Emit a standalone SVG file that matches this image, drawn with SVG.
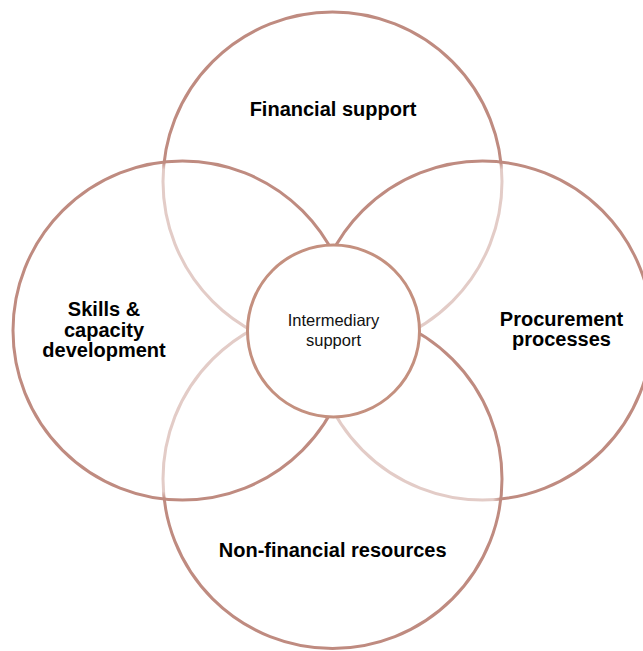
<svg xmlns="http://www.w3.org/2000/svg" width="643" height="651" viewBox="0 0 643 651">
  <style>
    .big { fill: url(#veil); stroke: #bf8b80; stroke-width: 3; }
    .hub { fill: #ffffff; stroke: #c4907f; stroke-width: 3; }
    .lbl { font-family: "Liberation Sans", Arial, sans-serif; font-weight: bold; font-size: 20px; fill: #000; text-anchor: middle; }
    .hubl { font-family: "Liberation Sans", Arial, sans-serif; font-size: 16.5px; fill: #111; text-anchor: middle; }
  </style>
  <defs>
    <radialGradient id="veil" cx="50%" cy="50%" r="50%">
      <stop offset="0" stop-color="#ffffff" stop-opacity="0.56"/>
      <stop offset="0.955" stop-color="#ffffff" stop-opacity="0.56"/>
      <stop offset="1" stop-color="#ffffff" stop-opacity="0"/>
    </radialGradient>
  </defs>
  <rect width="643" height="651" fill="#ffffff"/>
  <g id="financial-support">
    <circle class="big" cx="332.5" cy="181.5" r="169.5"/>
    <text class="lbl" x="333" y="116">Financial support</text>
  </g>
  <g id="procurement-processes">
    <circle class="big" cx="482.5" cy="330.5" r="169.5"/>
    <text class="lbl" x="561.5" y="326">Procurement</text>
    <text class="lbl" x="561.5" y="346">processes</text>
  </g>
  <g id="non-financial-resources">
    <circle class="big" cx="332.5" cy="479" r="169.5"/>
    <text class="lbl" x="332.7" y="557">Non-financial resources</text>
  </g>
  <g id="skills-capacity-development">
    <circle class="big" cx="182.5" cy="330.5" r="169.5"/>
    <text class="lbl" x="104" y="316">Skills &amp;</text>
    <text class="lbl" x="104" y="336.5">capacity</text>
    <text class="lbl" x="104" y="357">development</text>
  </g>
  <g id="intermediary-support">
    <circle class="hub" cx="333.5" cy="331" r="86"/>
    <text class="hubl" x="333.5" y="326">Intermediary</text>
    <text class="hubl" x="333.5" y="345.5">support</text>
  </g>
</svg>
